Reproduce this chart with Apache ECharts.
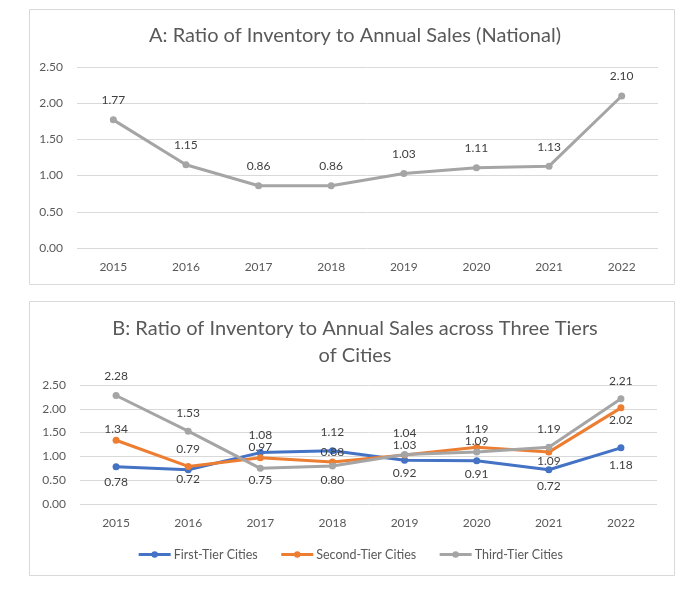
<!DOCTYPE html>
<html><head><meta charset="utf-8">
<script src="https://cdn.jsdelivr.net/npm/echarts@6/dist/echarts.min.js"></script>
<style>html,body{margin:0;padding:0;background:#fff}#c{width:700px;height:597px}</style>
</head><body><div id="c"></div>
<script>
const years = ['2015','2016','2017','2018','2019','2020','2021','2022'];
const national = [1.77, 1.15, 0.86, 0.86, 1.03, 1.11, 1.13, 2.10];
const firstTier = [0.78, 0.72, 1.08, 1.12, 0.92, 0.91, 0.72, 1.18];
const secondTier = [1.34, 0.79, 0.97, 0.88, 1.03, 1.19, 1.09, 2.02];
const thirdTier = [2.28, 1.53, 0.75, 0.80, 1.04, 1.09, 1.19, 2.21];
const seriesNames = ['First-Tier Cities', 'Second-Tier Cities', 'Third-Tier Cities'];

// label placement (style): negative = above the point, positive = below, gap in px to label centre
const firstGap = [15, 9, -17, -19, 13, 13, 16, 17];
const secondGap = [-11, -17, -11, -8, -10, -18, 4, 12];
const thirdGap = [-19, -18, 12, 14, -21, -11, -18, -18];

const FONT = 'Lato';
const TXT = '#595959';
const GRID = '#d9d9d9';
const COLORS = ['#4472C4', '#ED7D31', '#A5A5A5'];

function withLabels(values, gaps) {
  return values.map((v, i) => {
    const g = gaps[i];
    return {
      value: v,
      label: { position: g < 0 ? 'top' : 'bottom', distance: Math.max(0, Math.abs(g) - 9.5) }
    };
  });
}

const chart = echarts.init(document.getElementById('c'), null, { renderer: 'canvas' });
const axisLabel = { color: TXT, fontFamily: FONT, fontSize: 12 };
const labelFmt = p => Number(p.value).toFixed(2);

function yAxis(gridIndex) {
  return {
    gridIndex, type: 'value', min: 0, max: 2.5, interval: 0.5,
    axisLine: { show: false }, axisTick: { show: false },
    splitLine: { lineStyle: { color: GRID, width: 1 } },
    axisLabel: Object.assign({ formatter: v => v.toFixed(2), margin: 14 }, axisLabel)
  };
}
function xAxis(gridIndex) {
  return {
    gridIndex, type: 'category', data: years, boundaryGap: true,
    axisLine: { show: false }, axisTick: { show: false },
    axisLabel: Object.assign({ margin: 13 }, axisLabel)
  };
}
function lineSeries(name, data, color, xi, yi) {
  return {
    name, type: 'line', data, xAxisIndex: xi, yAxisIndex: yi,
    symbol: 'circle', symbolSize: 7,
    lineStyle: { color, width: 3 },
    itemStyle: { color },
    label: { show: true, color: '#404040', fontFamily: FONT, fontSize: 12, formatter: labelFmt },
    z: 3
  };
}

const sA = lineSeries('National', national, COLORS[2], 0, 0);
sA.label.position = 'top';
sA.label.distance = 10;

chart.setOption({
  animation: false,
  textStyle: { fontFamily: FONT },
  graphic: [
    { type: 'rect', shape: { x: 29.5, y: 9.5, width: 645, height: 275 }, style: { fill: 'none', stroke: GRID, lineWidth: 1 }, z: -1 },
    { type: 'rect', shape: { x: 29.5, y: 301.5, width: 645, height: 274 }, style: { fill: 'none', stroke: GRID, lineWidth: 1 }, z: -1 }
  ],
  title: [
    { text: 'A: Ratio of Inventory to Annual Sales (National)', left: 350, textAlign: 'center', top: 21,
      textStyle: { color: TXT, fontFamily: FONT, fontSize: 20, fontWeight: 'normal' } },
    { text: 'B: Ratio of Inventory to Annual Sales across Three Tiers\nof Cities', left: 350, top: 310,
      textAlign: 'center',
      textStyle: { color: TXT, fontFamily: FONT, fontSize: 20, fontWeight: 'normal', lineHeight: 27, align: 'center' } }
  ],
  legend: {
    data: seriesNames, top: 543, left: 'center', itemWidth: 32, itemHeight: 8, itemGap: 22,
    lineStyle: { width: 3 },
    textStyle: { color: TXT, fontFamily: FONT, fontSize: 12.5, padding: [0, 0, 0, -2] }
  },
  grid: [
    { left: 77, right: 42, top: 67, height: 181 },
    { left: 80, right: 43, top: 385, height: 119 }
  ],
  xAxis: [xAxis(0), xAxis(1)],
  yAxis: [yAxis(0), yAxis(1)],
  series: [
    sA,
    lineSeries(seriesNames[0], withLabels(firstTier, firstGap), COLORS[0], 1, 1),
    lineSeries(seriesNames[1], withLabels(secondTier, secondGap), COLORS[1], 1, 1),
    lineSeries(seriesNames[2], withLabels(thirdTier, thirdGap), COLORS[2], 1, 1)
  ]
});
</script></body></html>
